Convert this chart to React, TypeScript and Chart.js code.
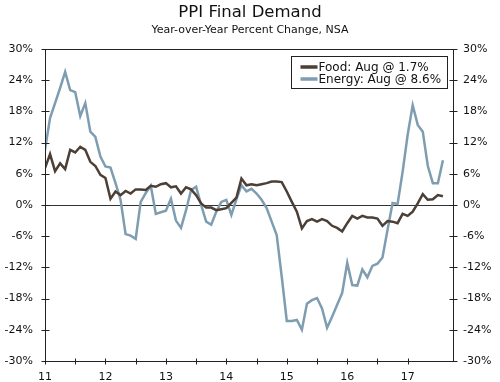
import React, { useEffect, useRef } from "react";
import { Chart, registerables } from "chart.js";

Chart.register(...registerables);

// Monthly data, Jan 2011 (index 0) through Aug 2017 (index 79)
const startYear = 11;
const lastMonthName = "Aug";
const yearLabels = ["11", "12", "13", "14", "15", "16", "17"];
const yTicks = [-30, -24, -18, -12, -6, 0, 6, 12, 18, 24, 30];

const seriesNames = ["Food", "Energy"];

const foodValues = [
  7.1, 9.8, 6.5, 8.0, 6.9, 10.6, 10.1, 11.2, 10.6, 8.3, 7.5, 5.8,
  5.2, 1.2, 2.6, 1.9, 2.7, 2.2, 3.0, 3.0, 2.9, 3.7, 3.5, 4.0,
  4.2, 3.4, 3.6, 2.2, 3.4, 3.0, 1.9, 0.3, -0.5, -0.5, -1.0, -0.8,
  -0.6, 0.4, 1.4, 5.1, 3.8, 4.0, 3.8, 4.0, 4.2, 4.5, 4.5, 4.4,
  2.6, 0.6, -1.3, -4.5, -3.1, -2.7, -3.2, -2.7, -3.1, -4.0, -4.4, -5.1,
  -3.5, -2.1, -2.6, -2.1, -2.4, -2.4, -2.6, -4.0, -3.1, -3.2, -3.5, -1.7,
  -2.1, -1.3, 0.3, 2.1, 1.0, 1.1, 1.9, 1.7,
];

const energyValues = [
  10.6, 16.7, 19.6, 22.5, 25.6, 22.1, 21.7, 17.1, 19.6, 14.1, 13.1, 9.3,
  7.4, 7.2, 4.2, 1.0, -5.6, -5.9, -6.5, 0.6, 2.3, 3.7, -1.7, -1.4,
  -1.1, 1.2, -3.0, -4.4, -1.0, 2.9, 3.5, 0.0, -3.2, -3.8, -1.3, 0.6,
  1.0, -1.9, 1.1, 3.8, 2.6, 3.1, 2.2, 1.0, -0.6, -3.2, -5.8, -13.8,
  -22.3, -22.3, -22.1, -24.0, -19.0, -18.3, -17.9, -19.9, -23.6, -21.5, -19.2, -16.9,
  -11.1, -15.4, -15.5, -12.4, -13.9, -11.7, -11.3, -10.1, -4.8, 0.4, 0.2, 6.4,
  13.5, 19.2, 15.4, 14.1, 7.5, 4.2, 4.2, 8.6,
];

const xMaxMonths = 81;

const FONT = "DejaVu Sans";

const decorPlugin = {
  id: "decor",
  afterDraw(chart: any) {
    const { ctx, chartArea: a, scales } = chart;
    ctx.save();
    ctx.strokeStyle = "#222";
    ctx.lineWidth = 1;
    const L = Math.round(a.left) + 0.5;
    const R = Math.round(a.right) + 0.5;
    const T = Math.round(a.top) + 0.5;
    const B = Math.round(a.bottom) + 0.5;
    ctx.strokeRect(L, T, R - L, B - T);
    const line = (x1: number, y1: number, x2: number, y2: number) => {
      ctx.beginPath();
      ctx.moveTo(x1, y1);
      ctx.lineTo(x2, y2);
      ctx.stroke();
    };
    scales.y.ticks.forEach((t: any) => {
      const py = Math.round(scales.y.getPixelForValue(t.value)) + 0.5;
      line(L - 4, py, L + 4, py);
      line(R - 4, py, R + 4, py);
    });
    scales.x.ticks.forEach((t: any) => {
      if (t.value % 6 !== 0) return;
      const px = Math.round(scales.x.getPixelForValue(t.value)) + 0.5;
      line(px, B - 3, px, B + 3);
    });

    // legend box
    const boxW = 156;
    const boxH = 32;
    const bx = Math.round(a.right) - 6 - boxW + 0.5;
    const by = Math.round(a.top) + 7 + 0.5;
    ctx.fillStyle = "#fff";
    ctx.fillRect(bx, by, boxW, boxH);
    ctx.strokeStyle = "#222";
    ctx.lineWidth = 1;
    ctx.strokeRect(bx, by, boxW, boxH);
    ctx.font = `12px "${FONT}"`;
    ctx.textBaseline = "middle";
    ctx.textAlign = "left";
    chart.data.datasets.forEach((ds: any, k: number) => {
      const yy = by + 10.5 + k * 12;
      ctx.strokeStyle = ds.borderColor;
      ctx.lineWidth = 3.5;
      ctx.beginPath();
      ctx.moveTo(bx + 9, yy);
      ctx.lineTo(bx + 26, yy);
      ctx.stroke();
      ctx.fillStyle = "#111";
      ctx.fillText(ds.label, bx + 27, yy + 0.5);
    });
    ctx.restore();
  },
};

export default function App() {
  const ref = useRef<HTMLCanvasElement>(null);
  useEffect(() => {
    document.body.style.margin = "0";
    const canvas = ref.current;
    if (!canvas) return;
    const mk = (vals: number[]) => vals.map((v, i) => ({ x: i, y: v }));
    const lbl = (name: string, vals: number[]) =>
      `${name}: ${lastMonthName} @ ${vals[vals.length - 1].toFixed(1)}%`;
    const yCommon = {
      type: "linear" as const,
      min: -30,
      max: 30,
      afterBuildTicks: (s: any) => {
        s.ticks = yTicks.map((v) => ({ value: v }));
      },
      border: { display: false },
      ticks: {
        color: "#111",
        font: { size: 11, family: FONT },
        callback: (v: any) => `${v}%`,
      },
    };
    const chart = new Chart(canvas, {
      type: "line",
      data: {
        datasets: [
          {
            label: lbl(seriesNames[0], foodValues),
            data: mk(foodValues),
            borderColor: "#4b3f36",
            borderWidth: 2.5,
            pointRadius: 0,
            tension: 0,
            yAxisID: "y",
          },
          {
            label: lbl(seriesNames[1], energyValues),
            data: mk(energyValues),
            borderColor: "#7f9db1",
            borderWidth: 2.5,
            pointRadius: 0,
            tension: 0,
            yAxisID: "y",
          },
        ],
      },
      options: {
        animation: false,
        responsive: false,
        devicePixelRatio: 1,
        layout: { padding: 0 },
        plugins: {
          legend: { display: false },
          tooltip: { enabled: false },
          title: {
            display: true,
            text: "PPI Final Demand",
            color: "#111",
            font: { size: 16.5, family: FONT, weight: "normal" },
            padding: { top: 3, bottom: 1 },
          },
          subtitle: {
            display: true,
            text: "Year-over-Year Percent Change, NSA",
            color: "#111",
            font: { size: 11, family: FONT },
            padding: { top: 0, bottom: 12 },
          },
        },
        scales: {
          x: {
            type: "linear",
            min: 0,
            max: xMaxMonths,
            grid: { display: false },
            border: { display: false },
            afterFit: (s: any) => {
              s.height = 21;
            },
            ticks: {
              stepSize: 6,
              autoSkip: false,
              maxRotation: 0,
              padding: 2,
              color: "#111",
              font: { size: 11, family: FONT },
              callback: (v: any) => {
                const n = Number(v);
                if (n % 12 !== 0) return "";
                return yearLabels[n / 12] ?? String(startYear + n / 12);
              },
            },
          },
          y: {
            ...yCommon,
            position: "left",
            afterFit: (s: any) => {
              s.width = 45;
            },
            grid: {
              drawTicks: false,
              color: (c: any) => (c.tick && c.tick.value === 0 ? "#333" : "rgba(0,0,0,0)"),
              lineWidth: 1,
            },
            ticks: { ...yCommon.ticks, padding: 12 },
          },
          y2: {
            ...yCommon,
            position: "right",
            afterFit: (s: any) => {
              s.width = 47;
            },
            grid: { display: false, drawTicks: false },
            ticks: { ...yCommon.ticks, padding: 10 },
          },
        },
      },
      plugins: [decorPlugin],
    } as any);
    return () => chart.destroy();
  }, []);
  return <canvas ref={ref} width={500} height={382} style={{ display: "block" }} />;
}
